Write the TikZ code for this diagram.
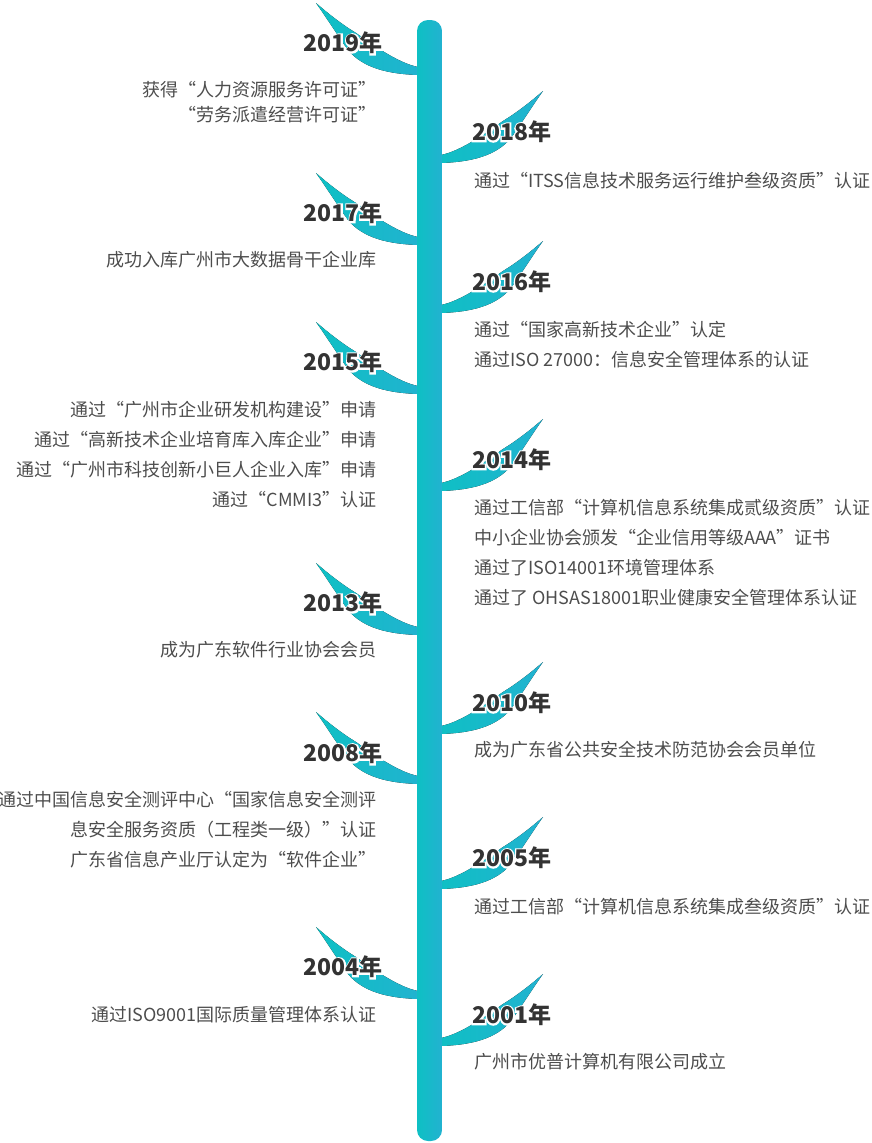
\documentclass[tikz,border=0pt]{standalone}
\usepackage{fontspec}
\setmainfont{Noto Sans CJK SC}
\newfontfamily\halofont{Noto Sans CJK SC Bold}[FakeBold=14]
\usepackage{xcolor}
\definecolor{trunkA}{RGB}{14,192,196}
\definecolor{trunkB}{RGB}{34,178,208}
\definecolor{yeargray}{RGB}{51,51,51}
\definecolor{textgray}{RGB}{77,77,77}
% year label with a white rim under it
\newcommand{\yr}[1]{\rlap{\halofont\color{white}#1}#1}

\begin{document}
\begin{tikzpicture}[x=1pt, y=-1pt,
    yearl/.style={anchor=east, inner sep=0pt, text=yeargray, font=\fontsize{23}{23}\selectfont\bfseries},
    yearr/.style={anchor=west, inner sep=0pt, text=yeargray, font=\fontsize{23}{23}\selectfont\bfseries},
    descl/.style={anchor=east, inner sep=0pt, text=textgray, font=\fontsize{18}{20}\selectfont},
    descr/.style={anchor=west, inner sep=0pt, text=textgray, font=\fontsize{18}{20}\selectfont},
    leaf/.pic={
        \fill[left color=trunkA, right color=trunkB]
            (6,3) -- (0,3) .. controls (-30,2) and (-55,-4) .. (-70,-22)
            .. controls (-80,-36) and (-92,-55) .. (-102,-69)
            .. controls (-95,-63) and (-80,-50) .. (-62,-39)
            .. controls (-45,-27) and (-20,-9) .. (0,-5) -- (6,-5) -- cycle;
    }]
    \useasboundingbox (0,0) rectangle (871,1143);

    % Leaves, left side
    \pic at (418,72) {leaf};
    \pic at (418,242) {leaf};
    \pic at (418,391) {leaf};
    \pic at (418,632) {leaf};
    \pic at (418,781) {leaf};
    \pic at (418,996) {leaf};

    % Leaves, right side
    \pic[xscale=-1] at (441,160) {leaf};
    \pic[xscale=-1] at (441,310) {leaf};
    \pic[xscale=-1] at (441,488) {leaf};
    \pic[xscale=-1] at (441,731) {leaf};
    \pic[xscale=-1] at (441,886) {leaf};
    \pic[xscale=-1] at (441,1043) {leaf};

    % Trunk
    \shade[left color=trunkA, right color=trunkB, rounded corners=11pt] (417,20) rectangle (442,1141);

    % 2019
    \node[yearl] (y2019) at (383,43) {\yr{2019年}};
    \node[descl] (d2019a) at (377,90) {获得“人力资源服务许可证”};
    \node[descl] (d2019b) at (377,115) {“劳务派遣经营许可证”};

    % 2018
    \node[yearr] (y2018) at (472,132) {\yr{2018年}};
    \node[descr] (d2018a) at (474,181) {通过“ITSS信息技术服务运行维护叁级资质”认证};

    % 2017
    \node[yearl] (y2017) at (383,213) {\yr{2017年}};
    \node[descl] (d2017a) at (377,260) {成功入库广州市大数据骨干企业库};

    % 2016
    \node[yearr] (y2016) at (472,282) {\yr{2016年}};
    \node[descr] (d2016a) at (474,330) {通过“国家高新技术企业”认定};
    \node[descr] (d2016b) at (474,360) {通过ISO 27000：信息安全管理体系的认证};

    % 2015
    \node[yearl] (y2015) at (383,362) {\yr{2015年}};
    \node[descl] (d2015a) at (377,410) {通过“广州市企业研发机构建设”申请};
    \node[descl] (d2015b) at (377,440) {通过“高新技术企业培育库入库企业”申请};
    \node[descl] (d2015c) at (377,470) {通过“广州市科技创新小巨人企业入库”申请};
    \node[descl] (d2015d) at (377,500) {通过“CMMI3”认证};

    % 2014
    \node[yearr] (y2014) at (472,460) {\yr{2014年}};
    \node[descr] (d2014a) at (474,508) {通过工信部“计算机信息系统集成贰级资质”认证};
    \node[descr] (d2014b) at (474,538) {中小企业协会颁发“企业信用等级AAA”证书};
    \node[descr] (d2014c) at (474,568) {通过了ISO14001环境管理体系};
    \node[descr] (d2014d) at (474,598) {通过了 OHSAS18001职业健康安全管理体系认证};

    % 2013
    \node[yearl] (y2013) at (383,603) {\yr{2013年}};
    \node[descl] (d2013a) at (377,650) {成为广东软件行业协会会员};

    % 2010
    \node[yearr] (y2010) at (472,703) {\yr{2010年}};
    \node[descr] (d2010a) at (474,750) {成为广东省公共安全技术防范协会会员单位};

    % 2008
    \node[yearl] (y2008) at (383,753) {\yr{2008年}};
    \node[descl] (d2008a) at (377,800) {通过中国信息安全测评中心“国家信息安全测评};
    \node[descl] (d2008b) at (377,830) {息安全服务资质（工程类一级）”认证};
    \node[descl] (d2008c) at (377,860) {广东省信息产业厅认定为“软件企业”};

    % 2005
    \node[yearr] (y2005) at (472,858) {\yr{2005年}};
    \node[descr] (d2005a) at (474,907) {通过工信部“计算机信息系统集成叁级资质”认证};

    % 2004
    \node[yearl] (y2004) at (383,967) {\yr{2004年}};
    \node[descl] (d2004a) at (377,1015) {通过ISO9001国际质量管理体系认证};

    % 2001
    \node[yearr] (y2001) at (472,1015) {\yr{2001年}};
    \node[descr] (d2001a) at (474,1062) {广州市优普计算机有限公司成立};
\end{tikzpicture}
\end{document}
